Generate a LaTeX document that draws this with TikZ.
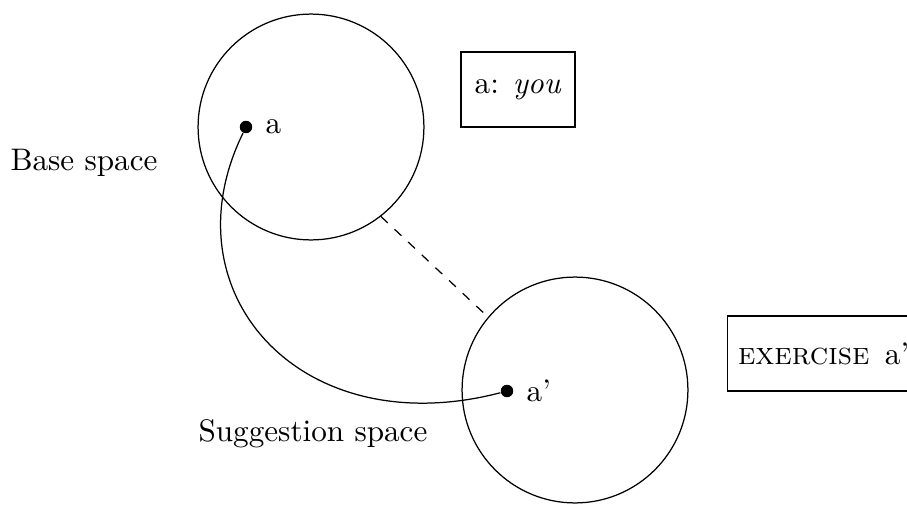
\documentclass[tikz,border=0pt]{standalone}
\begin{document}
\begin{tikzpicture}[x=0.321pt,y=-0.321pt,
  space/.style={draw, circle, minimum size=72.5pt, inner sep=0pt},
  elem/.style={circle, fill, inner sep=0pt, minimum size=4pt},
  frame/.style={draw, minimum height=24pt}]
\useasboundingbox (0,0) rectangle (907,504);
\node[space] (base) at (311,127) {};
\node[space] (sugg) at (575,390) {};
\node[elem, label={[label distance=0.6pt]right:a}] (a) at (246,127) {};
\node[elem, label={[label distance=0.6pt]right:a'}] (a2) at (507,391) {};
\node (bl) at (84,163) {Base space};
\node (sl) at (313,434) {Suggestion space};
\node[frame, minimum width=36.6pt] (fa) at (518,89.5) {a: \textit{you}};
\node[frame, anchor=west] (fb) at (727,353.5) {\textsc{exercise}\ \,a'};
\draw[dashed] (base.-52) -- (sugg.140);
\draw (a) .. controls (165,292) and (300,445) .. (a2);
\end{tikzpicture}
\end{document}
